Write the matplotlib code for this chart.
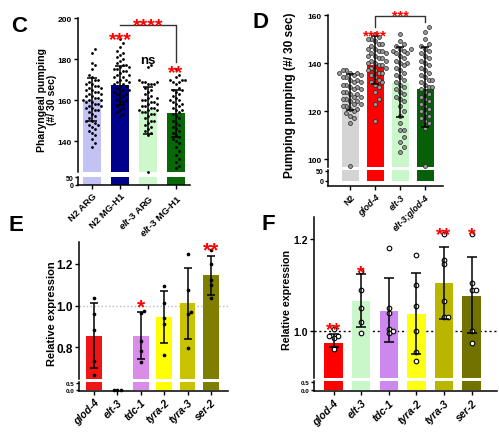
import numpy as np
import matplotlib
matplotlib.use('Agg')
import matplotlib.pyplot as plt

plt.rcParams['font.family'] = ['Liberation Sans', 'DejaVu Sans']
plt.rcParams['font.weight'] = 'bold'
plt.rcParams['axes.linewidth'] = 1.1
plt.rcParams['mathtext.fontset'] = 'custom'
plt.rcParams['mathtext.bf'] = 'Liberation Sans:bold'
plt.rcParams['mathtext.bfit'] = 'Liberation Sans:italic:bold'

W, H = 499, 435

# ---- panel C : pharyngeal pumping
c_groups = ['N2 ARG', 'N2 MG-H1', r'$\mathbfit{elt}$-3 ARG', r'$\mathbfit{elt}$-3 MG-H1']
c_mean = [160.2, 167.3, 155.0, 153.5]
c_sd = [10.5, 9.5, 11.5, 11.5]
c_colors = ['#c2c2f5', '#00008c', '#ccf8cc', '#086808']
c_n2_arg = [185, 183, 178, 177, 175, 172, 171, 170, 170, 169, 168, 168, 167, 167, 166,
            166, 165, 165, 164, 164, 163, 163, 162, 162, 161, 161, 160, 160, 160, 159,
            159, 158, 158, 157, 157, 156, 156, 155, 155, 154, 153, 152, 151, 150, 150,
            149, 148, 148, 147, 146, 145, 144, 143, 141, 139, 137]
c_n2_mg = [190, 188, 186, 184, 183, 182, 181, 180, 179, 178, 177, 177, 176, 176, 175,
           175, 174, 174, 173, 172, 172, 171, 171, 170, 170, 169, 169, 168, 168, 167,
           167, 166, 165, 165, 164, 164, 163, 163, 162, 161, 160, 160, 159, 158, 157,
           156, 155, 154, 153, 152]
c_elt3_arg = [177, 176, 170, 169, 169, 169, 168, 168, 168, 166, 165, 164, 163, 162, 161,
              161, 160, 160, 159, 159, 158, 158, 157, 157, 156, 156, 155, 155, 155, 154,
              154, 153, 153, 152, 151, 150, 150, 149, 148, 147, 146, 145, 144, 143, 125]
c_elt3_mg = [175, 172, 171, 170, 170, 170, 169, 169, 168, 166, 165, 165, 164, 163, 162,
             161, 160, 160, 159, 158, 158, 157, 156, 155, 155, 154, 153, 152, 151, 150,
             149, 148, 147, 146, 145, 144, 143, 142, 141, 140, 139, 137, 135, 133, 131,
             130, 128, 127]

# ---- panel D : pumping
d_groups = ['N2', 'glod-4', 'elt-3', 'elt-3;glod-4']
d_mean = [127.5, 139.3, 131.6, 129.2]
d_err_lo = [7.2, 8.0, 14.0, 16.0]
d_err_hi = [7.9, 12.0, 15.0, 17.5]
d_colors = ['#d4d4d4', '#ff0000', '#c9f7c9', '#075f07']
d_n2 = [137, 137, 136, 136, 136, 135, 135, 134, 134, 133, 133, 132, 132, 131, 131, 130,
        130, 129, 129, 128, 128, 127, 127, 126, 126, 125, 125, 124, 124, 123, 123, 122,
        122, 121, 121, 120, 119, 118, 117, 115, 97]
d_glod4 = [152, 151, 150, 150, 149, 148, 148, 147, 146, 146, 145, 145, 144, 144, 143, 143,
           142, 142, 141, 141, 140, 140, 139, 139, 138, 138, 137, 137, 136, 136, 135, 134,
           133, 132, 132, 131, 130, 128, 125, 123, 116]
d_elt3 = [152, 149, 148, 147, 146, 146, 145, 145, 144, 144, 143, 142, 141, 140, 140, 139,
          138, 137, 136, 135, 134, 133, 132, 131, 130, 129, 128, 127, 126, 125, 124, 122,
          120, 118, 115, 112, 112, 109, 107, 105, 103]
d_double = [155, 153, 150, 148, 147, 146, 145, 144, 143, 142, 141, 140, 139, 138, 137, 136,
            135, 134, 133, 133, 132, 131, 130, 130, 129, 128, 127, 126, 125, 124, 123, 122,
            121, 120, 119, 118, 117, 116, 115, 113, 97]

# ---- panels E / F : relative expression
genes = ['glod-4', 'elt-3', 'tdc-1', 'tyra-2', 'tyra-3', 'ser-2']
e_mean = [0.855, 0.0, 0.855, 0.945, 1.01, 1.145]
e_sd = [0.155, 0.0, 0.113, 0.125, 0.17, 0.092]
e_colors = ['#ee1515', '#ffffff', '#d98ce8', '#ffff00', '#c8c200', '#7e7e00']
e_dots = [[1.035, 0.96, 0.88, 0.735, 0.665],
          [0.0, 0.0, 0.0],
          [0.975, 0.965, 0.83, 0.78, 0.73],
          [1.095, 1.01, 0.94, 0.91, 0.76],
          [1.25, 1.075, 0.96, 0.97, 0.795],
          [1.265, 1.2, 1.125, 1.1, 1.035]]

f_mean = [0.975, 1.065, 1.044, 1.037, 1.104, 1.077]
f_err_lo = [0.010, 0.056, 0.068, 0.087, 0.078, 0.082]
f_err_hi = [0.018, 0.060, 0.071, 0.090, 0.079, 0.084]
f_colors = ['#ff0000', '#c9f7c9', '#cc88ee', '#ffff14', '#bab600', '#727200']
f_dots = [[1.005, 0.99, 0.99, 0.985, 0.96],
          [1.13, 1.09, 1.05, 1.02, 0.995],
          [1.18, 1.05, 1.04, 1.005, 1.0, 0.995],
          [1.165, 1.10, 1.055, 1.0, 0.955, 0.935],
          [1.21, 1.155, 1.145, 1.065, 1.03, 1.03],
          [1.21, 1.105, 1.09, 1.09, 1.0, 0.975]]


def px_axes(fig, left, top, right, bottom):
    ax = fig.add_axes([left / W, 1 - bottom / H, (right - left) / W, (bottom - top) / H])
    ax.patch.set_visible(False)
    return ax


def swarm(vals, ypx, dx, dy):
    # beeswarm with an elliptic footprint, x offsets returned in pixels
    vals = np.asarray(vals, dtype=float)
    offs = np.zeros(len(vals))
    placed = []
    cands = [0.0]
    for k in range(1, 40):
        cands += [k * dx * 0.5, -k * dx * 0.5]
    for i in np.argsort(vals, kind='stable'):
        y = vals[i] * ypx
        for x in cands:
            if all(((x - px) / dx) ** 2 + ((y - py) / dy) ** 2 >= 1 for px, py in placed):
                break
        placed.append((x, y))
        offs[i] = x
    return offs


def broken(fig, box, ylim_up, ylim_lo, xlim, means, colors, width, yt_up, yt_lo,
           fs_up, fs_lo, labels, fs_x, italic):
    left, right, top, mid, low_top, bottom = box
    up = px_axes(fig, left, top, right, mid)
    lo = px_axes(fig, left, low_top, right, bottom)
    x = np.arange(len(means))
    for ax in (up, lo):
        ax.bar(x, means, width, color=colors, zorder=1)
        ax.set_xlim(*xlim)
        for s in ('top', 'right'):
            ax.spines[s].set_visible(False)
        ax.tick_params(direction='out', length=3, width=1, pad=1.5)
    up.spines['bottom'].set_visible(False)
    up.set_xticks([])
    up.set_ylim(*ylim_up)
    up.set_yticks(yt_up)
    up.tick_params(labelsize=fs_up)
    lo.set_ylim(*ylim_lo)
    lo.set_yticks(yt_lo)
    lo.tick_params(axis='y', labelsize=fs_lo, length=2, pad=1)
    lo.set_xticks(x)
    lo.set_xticklabels(labels, rotation=45, ha='right', rotation_mode='anchor',
                       fontsize=fs_x, style='italic' if italic else 'normal')
    up_px = (mid - top) / (ylim_up[1] - ylim_up[0])
    x_px = (right - left) / (xlim[1] - xlim[0])
    return up, lo, up_px, x_px


def stars(ax, x, y, s, fs, color='red'):
    ax.annotate(s, (x, y), xytext=(0, -0.58 * fs), textcoords='offset points',
                ha='center', va='baseline', color=color, fontsize=fs,
                annotation_clip=False)


fig = plt.figure(figsize=(W / 100, H / 100), dpi=100)

# ---------------- C
up, lo, ypx, xpx = broken(fig, (78, 190, 19, 173, 177.5, 186), (124.9, 200), (-3, 55),
                          (-0.5, 3.5), c_mean, c_colors, 0.65, [140, 160, 180, 200],
                          [0, 50], 6, 5, c_groups, 6.8, False)
for i, vals in enumerate([c_n2_arg, c_n2_mg, c_elt3_arg, c_elt3_mg]):
    off = swarm(vals, ypx, 3.0, 5.5) / xpx
    up.scatter(i + off, vals, s=4, color='k', lw=0, zorder=2, clip_on=False)
up.errorbar(range(4), c_mean, yerr=c_sd, fmt='none', ecolor='k', elinewidth=1.1,
            capsize=3.6, capthick=1.1, zorder=3)
stars(up, 1, 193, '***', 14)
stars(up, 3, 176.5, '**', 14)
up.text(2, 179.5, 'ns', ha='center', va='center', fontsize=9.5)
up.plot([1, 3, 3], [196.6, 196.6, 178.5], color='#333333', lw=1, clip_on=False)
stars(up, 2, 199.5, '****', 14)
fig.text(47 / W, 1 - 100 / H, 'Pharyngeal pumping\n(#/ 30 sec)', rotation=90,
         ha='center', va='center', fontsize=7.6, linespacing=1.1)
fig.text(19 / W, 1 - 27 / H, 'C', ha='center', va='center', fontsize=16)

# ---------------- D
up, lo, ypx, xpx = broken(fig, (328, 443, 16, 168, 171, 187), (96.7, 160), (-25, 55),
                          (-0.88, 3.72), d_mean, d_colors, 0.68, [100, 120, 140, 160],
                          [0, 50], 6, 5, d_groups, 6.3, True)
lo.xaxis.get_ticklabels()[0].set_style('normal')
for i, vals in enumerate([d_n2, d_glod4, d_elt3, d_double]):
    off = swarm(vals, ypx, 3.6, 6.0) / xpx
    up.scatter(i + off, vals, s=8, facecolor='#9a9a9a', edgecolor='#222222', lw=0.5,
               zorder=2, clip_on=False)
up.errorbar(range(4), d_mean, yerr=[d_err_lo, d_err_hi], fmt='none', ecolor='k',
            elinewidth=1.1, capsize=3, capthick=1.1, zorder=3)
stars(up, 1, 153.3, '****', 11)
up.plot([1, 1, 3, 3], [155, 159.6, 159.6, 157.1], color='#333333', lw=1, clip_on=False)
stars(up, 2, 161.8, '***', 10.5)
fig.text(290 / W, 1 - 95 / H, 'Pumping pumping (#/ 30 sec)', rotation=90,
         ha='center', va='center', fontsize=8.6)
fig.text(261 / W, 1 - 23 / H, 'D', ha='center', va='center', fontsize=16)

# ---------------- E
up, lo, ypx, xpx = broken(fig, (79, 228, 243, 380, 383, 392), (0.6465, 1.3056),
                          (-0.1, 0.6), (-0.64, 5.73), e_mean, e_colors, 0.68,
                          [0.8, 1.0, 1.2], [0, 0.5], 8.5, 4.5, genes, 7.5, True)
lo.set_yticklabels(['0.0', '0.5'])
up.axhline(1.0, color='#bbbbbb', ls=':', lw=1, zorder=0)
for i, vals in enumerate(e_dots):
    ax = lo if max(vals) < 0.6 else up
    scale = 9 / 0.7 if ax is lo else ypx
    off = swarm(vals, scale, 3.4, 3.4) / xpx
    ax.scatter(i + off, vals, s=7, color='k', lw=0, zorder=2, clip_on=False)
keep = [i for i in range(6) if e_mean[i] > 0]
up.errorbar(keep, [e_mean[i] for i in keep], yerr=[e_sd[i] for i in keep], fmt='none',
            ecolor='k', elinewidth=1.1, capsize=3, capthick=1.1, zorder=3)
stars(up, 2, 1.024, '*', 15)
stars(up, 5, 1.30, '**', 15)
fig.text(52 / W, 1 - 314 / H, 'Relative expression', rotation=90,
         ha='center', va='center', fontsize=8)
fig.text(16 / W, 1 - 226 / H, 'E', ha='center', va='center', fontsize=16)

# ---------------- F
up, lo, ypx, xpx = broken(fig, (314, 497, 218, 379, 382, 392), (0.898, 1.2478),
                          (-0.1, 0.6), (-0.71, 5.92), f_mean, f_colors, 0.67,
                          [1.0, 1.2], [0, 0.5], 7.5, 4.5, genes, 7.6, True)
lo.set_yticklabels(['0.0', '0.5'])
up.axhline(1.0, color='k', ls=(0, (1.5, 2)), lw=1, zorder=0)
for i, vals in enumerate(f_dots):
    off = swarm(vals, ypx, 4.4, 4.4) / xpx
    up.scatter(i + off, vals, s=11, facecolor='white', edgecolor='k', lw=0.8,
               zorder=2, clip_on=False)
up.errorbar(range(6), f_mean, yerr=[f_err_lo, f_err_hi], fmt='none', ecolor='k',
            elinewidth=1.1, capsize=3.5, capthick=1.1, zorder=3)
stars(up, 0, 1.018, '**', 14)
stars(up, 1, 1.142, '*', 14)
stars(up, 4, 1.225, '**', 14)
stars(up, 5, 1.225, '*', 14)
fig.text(287 / W, 1 - 300 / H, 'Relative expression', rotation=90,
         ha='center', va='center', fontsize=7.7)
fig.text(268 / W, 1 - 225 / H, 'F', ha='center', va='center', fontsize=16)

fig.savefig('out.png', dpi=100)
